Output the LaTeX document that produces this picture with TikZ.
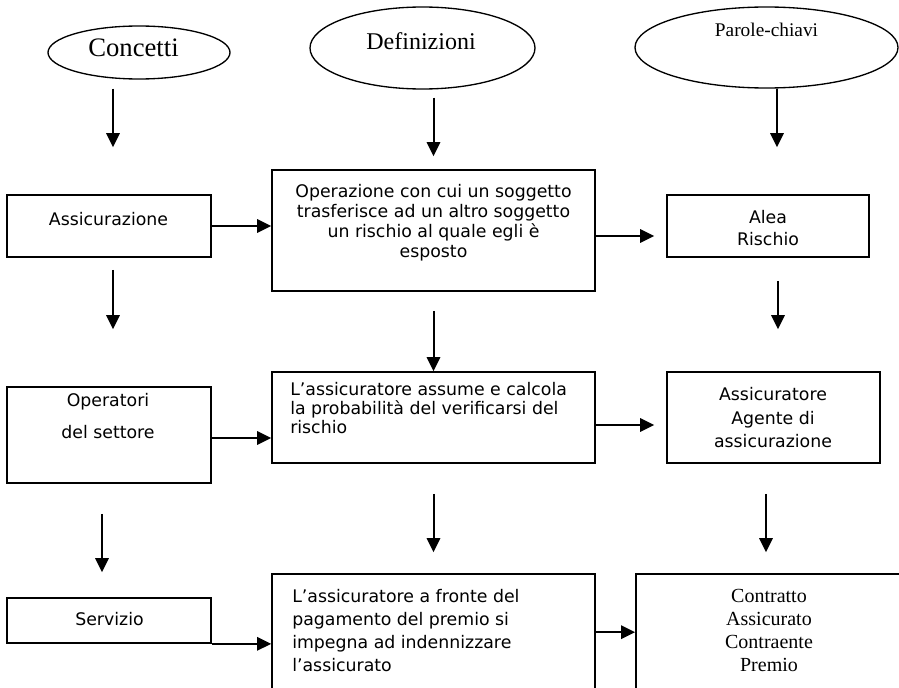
\documentclass[tikz,border=0pt]{standalone}
\usepackage{fontspec}
\newfontfamily\boxfont{DejaVu Sans}
\newfontfamily\ovalfont{Liberation Serif}
\usetikzlibrary{shapes.geometric,arrows.meta,calc}

\begin{document}
\begin{tikzpicture}[x=0.75pt,y=-0.75pt,
    frame/.style={draw,line width=1.25pt,inner sep=0pt},
    oval/.style={draw,ellipse,line width=1pt,inner sep=0pt},
    arr/.style={line width=1.5pt,-{Triangle[length=10.5pt,width=10pt]}},
    sans/.style={font=\boxfont\fontsize{13}{15}\selectfont,align=center,inner sep=0pt},
    serif/.style={font=\ovalfont\fontsize{15}{17.25}\selectfont,align=center,inner sep=0pt}]

    \useasboundingbox (0,0) rectangle (899,688);
    \clip (0,0) rectangle (899,688);

    % ovals
    \node[oval,minimum width=136.5pt,minimum height=39.75pt] (e1) at (139,52.5) {};
    \node[oval,minimum width=168.75pt,minimum height=61.5pt] (e2) at (422.5,48) {};
    \node[oval,minimum width=197.25pt,minimum height=60.75pt] (e3) at (766.5,47.5) {};
    \node[anchor=base,font=\ovalfont\fontsize{20}{24}\selectfont] (e1t) at (133.5,57) {Concetti};
    \node[anchor=base,font=\ovalfont\fontsize{18}{22}\selectfont] (e2t) at (421,50) {Definizioni};
    \node[anchor=base,font=\ovalfont\fontsize{14.5}{17}\selectfont] (e3t) at (766.5,37) {Parole-chiavi};

    % left column
    \node[frame,minimum width=153pt,minimum height=46.5pt] (b1) at (109,226) {};
    \node[frame,minimum width=153pt,minimum height=72pt] (b2) at (109,435) {};
    \node[frame,minimum width=153pt,minimum height=33.75pt] (b3) at (109,620.5) {};
    \node[sans] (b1t) at (108.5,219) {Assicurazione};
    \node[sans,font=\boxfont\fontsize{13}{24}\selectfont] (b2t) at (108,416) {Operatori\\del settore};
    \node[sans] (b3t) at (109.5,619) {Servizio};

    % middle column
    \node[frame,minimum width=242.25pt,minimum height=90.75pt] (d1) at (433.5,230.5) {};
    \node[frame,minimum width=242.25pt,minimum height=68.25pt] (d2) at (433.5,417.5) {};
    \node[frame,minimum width=242.25pt,minimum height=97.5pt] (d3) at (433.5,639) {};
    \node[sans] (d1t) at (433.5,223) {Operazione con cui un soggetto\\trasferisce ad un altro soggetto\\un rischio al quale egli è\\esposto};
    \node[sans,align=left,anchor=west,font=\boxfont\fontsize{13}{14.25}\selectfont] (d2t) at (290,408) {L’assicuratore assume e calcola\\la probabilità del verificarsi del\\rischio};
    \node[sans,align=left,anchor=west,font=\boxfont\fontsize{13}{17.25}\selectfont] (d3t) at (292,631) {L’assicuratore a fronte del\\pagamento del premio si\\impegna ad indennizzare\\l’assicurato};

    % right column
    \node[frame,minimum width=151.5pt,minimum height=46.5pt] (k1) at (768,226) {};
    \node[frame,minimum width=159.75pt,minimum height=68.25pt] (k2) at (773.5,417.5) {};
    \node[frame,minimum width=213pt,minimum height=97.5pt] (k3) at (778,639) {};
    \node[sans,font=\boxfont\fontsize{13}{16.5}\selectfont] (k1t) at (768,228) {Alea\\Rischio};
    \node[sans,font=\boxfont\fontsize{13}{17.6}\selectfont] (k2t) at (773,418) {Assicuratore\\Agente di\\assicurazione};
    \node[serif] (k3t) at (769,630) {Contratto\\Assicurato\\Contraente\\Premio};

    % down arrows
    \draw[arr,shorten <=6.75pt,shorten >=35.25pt] ($(b1.north |- e1.south)+(4,0)$) -- ($(b1.north)+(4,0)$);
    \draw[arr,shorten <=9pt,shorten >=42.75pt] ($(b1.south)+(4,0)$) -- ($(b1.south |- b2.north)+(4,0)$);
    \draw[arr,shorten <=22.5pt,shorten >=18.75pt] ($(b2.south)+(-7,0)$) -- ($(b3.north)+(-7,0)$);
    \draw[arr,shorten <=6pt,shorten >=9.75pt] (d1.north |- e2.south) -- (d1.north);
    \draw[arr,shorten <=14.25pt] (d1.south) -- (d2.north);
    \draw[arr,shorten <=22.5pt,shorten >=15.75pt] (d2.south) -- (d3.north);
    \draw[arr,shorten >=35.25pt] ($(k1.north |- e3.south)+(9,0)$) -- ($(k1.north)+(9,0)$);
    \draw[arr,shorten <=17.25pt,shorten >=31.5pt] ($(k1.south)+(10,0)$) -- ($(k1.south |- k2.north)+(10,0)$);
    \draw[arr,shorten <=22.5pt,shorten >=15.75pt] ($(k2.south)+(-7.5,0)$) -- ($(k2.south |- k3.north)+(-7.5,0)$);

    % across arrows
    \draw[arr] (b1.east) -- (b1.east -| d1.west);
    \draw[arr,shorten >=9pt] ($(d1.east)+(0,5.5)$) -- ($(d1.east -| k1.west)+(0,5.5)$);
    \draw[arr] ($(b2.east)+(0,3)$) -- ($(b2.east -| d2.west)+(0,3)$);
    \draw[arr,shorten >=9pt] ($(d2.east)+(0,7.5)$) -- ($(d2.east -| k2.west)+(0,7.5)$);
    \draw[arr] (b3.south east) -- (b3.south east -| d3.west);
    \draw[arr] ($(d3.north east)+(0,59)$) -- ($(d3.north east -| k3.west)+(0,59)$);

\end{tikzpicture}
\end{document}
